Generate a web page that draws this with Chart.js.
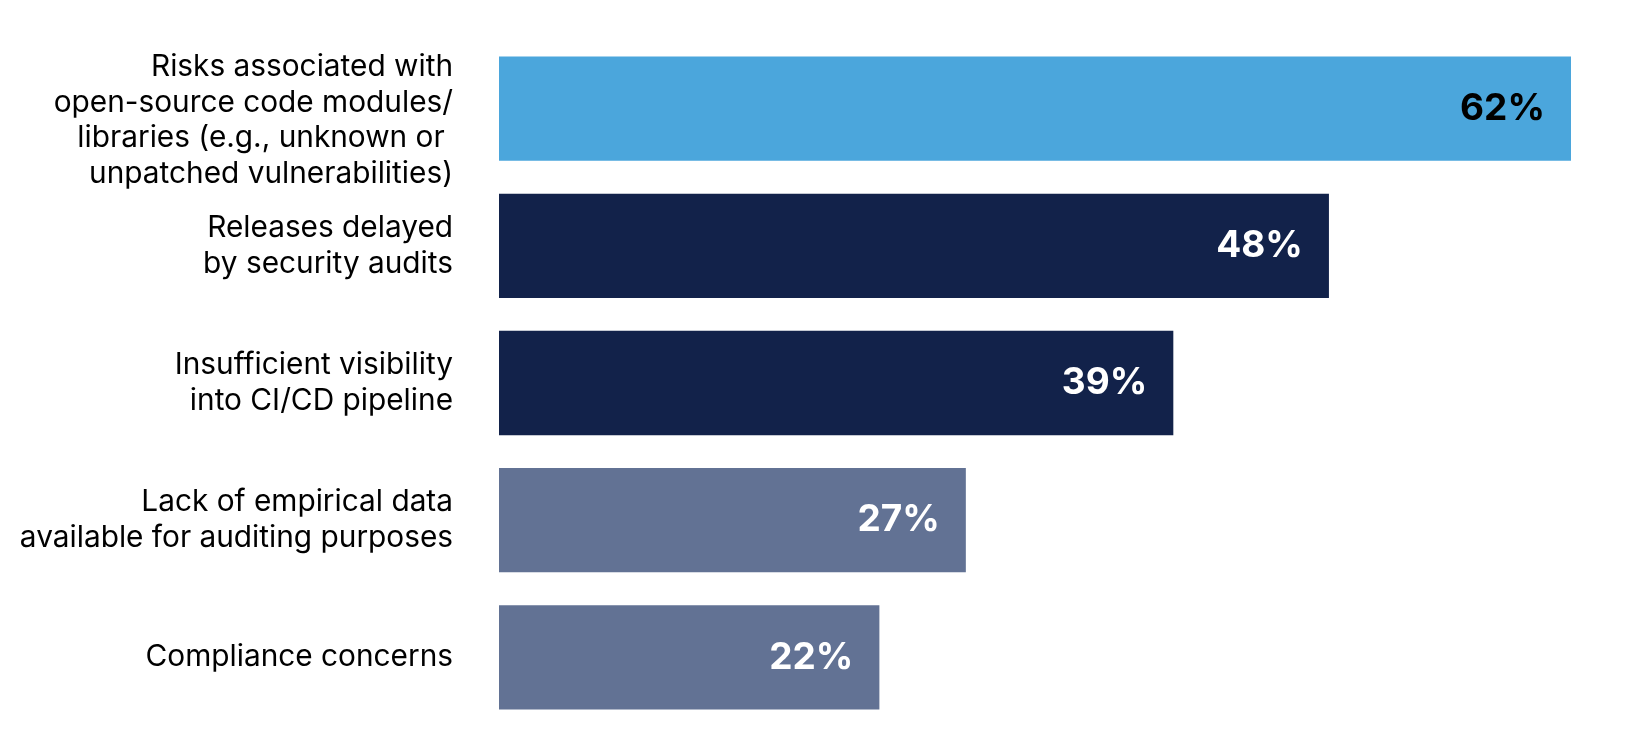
<!DOCTYPE html>
<html>
<head>
<meta charset="utf-8">
<script src="https://cdn.jsdelivr.net/npm/chart.js@4/dist/chart.umd.min.js"></script>
<style>
  html, body { margin: 0; padding: 0; background: #ffffff; }
  #wrap { width: 1638px; height: 730px; position: relative; }
</style>
</head>
<body>
<div id="wrap"><canvas id="c" width="1638" height="730"></canvas></div>
<script>
const categories = [
  ["Risks associated with", "open-source code modules/", "libraries (e.g., unknown or ", "unpatched vulnerabilities)"],
  ["Releases delayed", "by security audits"],
  ["Insufficient visibility", "into CI/CD pipeline"],
  ["Lack of empirical data", "available for auditing purposes"],
  ["Compliance concerns"]
];
const values = [62, 48, 39, 27, 22];
const barColors = ["#4BA6DC", "#12224A", "#12224A", "#627294", "#627294"];
const labelColors = ["#000000", "#ffffff", "#ffffff", "#ffffff", "#ffffff"];

const valueLabels = {
  id: 'valueLabels',
  afterDatasetsDraw(chart) {
    const ctx = chart.ctx;
    const meta = chart.getDatasetMeta(0);
    ctx.save();
    ctx.font = 'bold 37px Inter, "Liberation Sans", sans-serif';
    ctx.textAlign = 'right';
    ctx.textBaseline = 'middle';
    meta.data.forEach((bar, i) => {
      ctx.fillStyle = labelColors[i];
      ctx.fillText(values[i] + '%', bar.x - 26, bar.y);
    });
    ctx.restore();
  }
};

// the first (4-line) category label sits a little below its bar centre in the reference
const shiftFirstLabel = {
  id: 'shiftFirstLabel',
  beforeDraw(chart) {
    const scale = chart.scales.y;
    const items = scale.getLabelItems(chart.chartArea);
    if (items && items[0] && !items[0]._shifted) {
      items[0].options.translation[1] += 12;
      items[0]._shifted = true;
    }
  }
};

new Chart(document.getElementById('c'), {
  type: 'bar',
  data: {
    labels: categories,
    datasets: [{
      data: values,
      backgroundColor: barColors,
      borderWidth: 0,
      categoryPercentage: 1,
      barPercentage: 0.76
    }]
  },
  options: {
    indexAxis: 'y',
    responsive: false,
    animation: false,
    layout: { padding: { left: 0, right: 67, top: 40, bottom: 4 } },
    plugins: { legend: { display: false }, tooltip: { enabled: false } },
    scales: {
      x: {
        min: 0, max: 62,
        display: false,
        grid: { display: false }
      },
      y: {
        grid: { display: false, drawTicks: false },
        border: { display: false },
        afterFit(scale) {
          scale.width = 499;
          scale.paddingTop = 0;
          scale.paddingBottom = 0;
        },
        ticks: {
          autoSkip: false,
          padding: 46,
          color: '#000000',
          font: { family: 'Inter, "Liberation Sans", sans-serif', size: 29.8, lineHeight: '35.5px' }
        }
      }
    }
  },
  plugins: [valueLabels, shiftFirstLabel]
});
</script>
</body>
</html>
